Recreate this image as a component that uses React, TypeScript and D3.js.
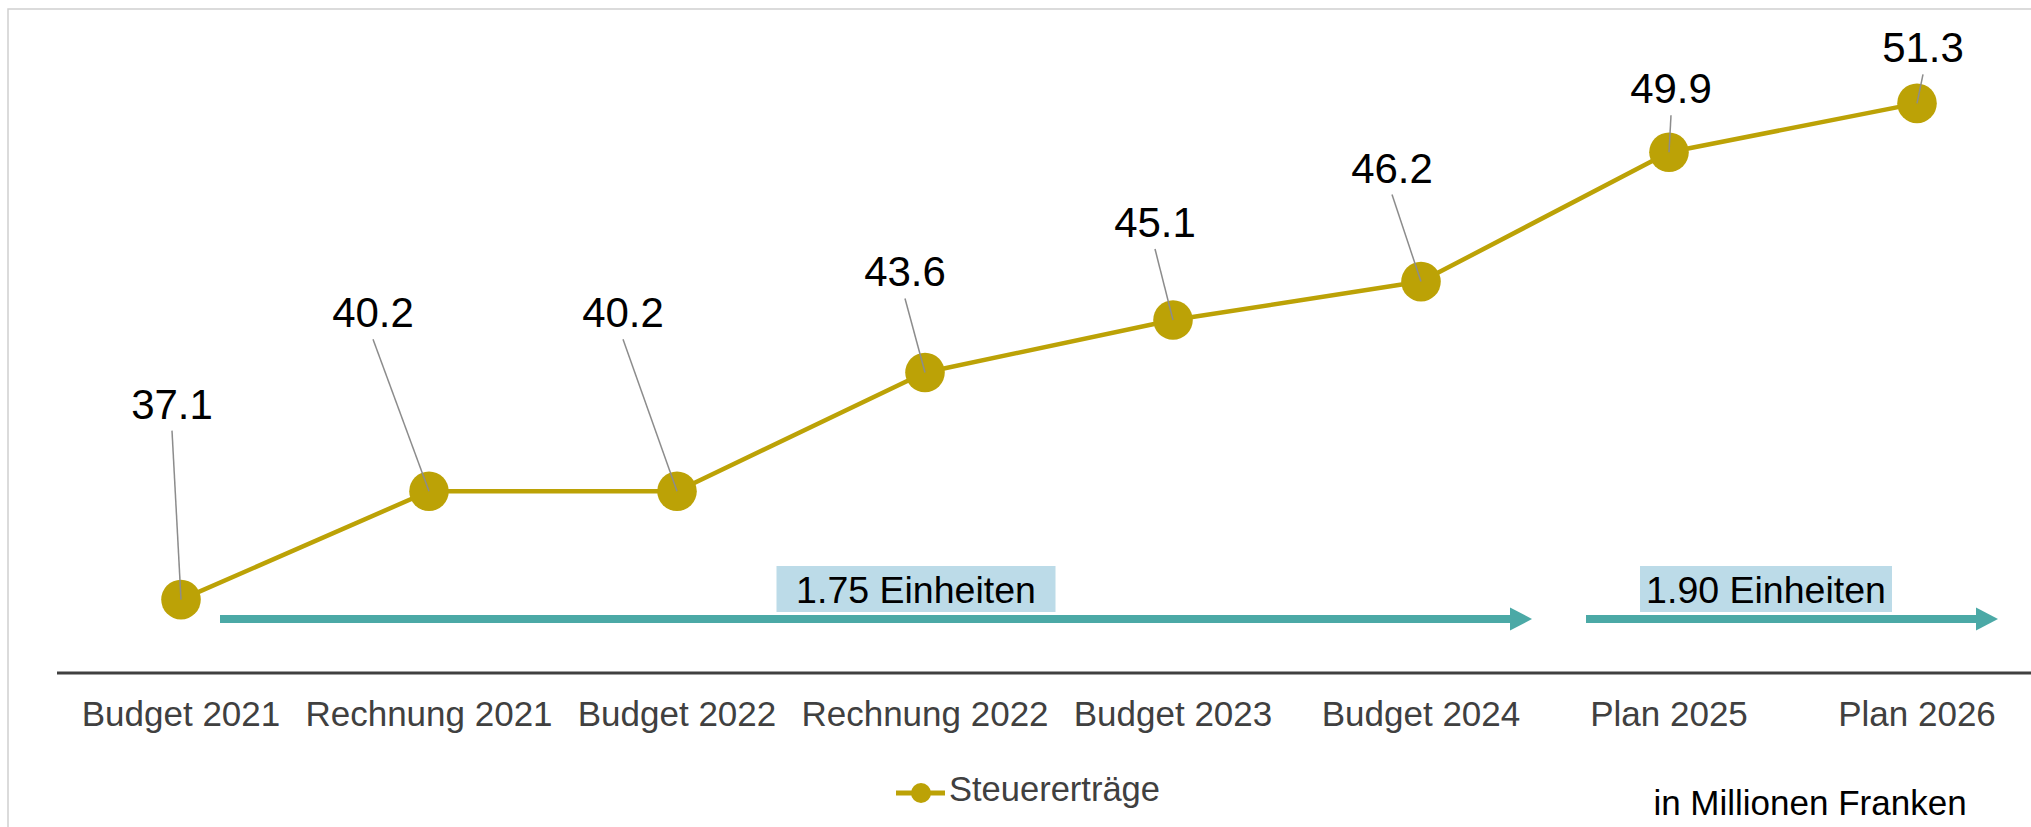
import React from "react";
import * as d3 from "d3";

const categories = [
  "Budget 2021",
  "Rechnung 2021",
  "Budget 2022",
  "Rechnung 2022",
  "Budget 2023",
  "Budget 2024",
  "Plan 2025",
  "Plan 2026",
];
const values = [37.1, 40.2, 40.2, 43.6, 45.1, 46.2, 49.9, 51.3];
const seriesName = "Steuererträge";
const unitNote = "in Millionen Franken";
const rateLabels = ["1.75 Einheiten", "1.90 Einheiten"];
const rateFrom = [0, 6];
const rateTo = [5, 7];

// layout (label placement as in the reference)
const labelDx = [-9, -56, -54, -20, -18, -29, 2, 6];
const labelDy = [-181, -164, -164, -86, -83, -99, -49, -41];

const W = 2031;
const H = 827;
const FONT = "'Liberation Sans', Arial, sans-serif";
const GOLD = "#BCA206";
const TEAL = "#4BA9A6";

export default function App() {
  const x = d3.scaleBand<string>().domain(categories).range([57, 2041]).padding(0);
  const y = d3.scaleLinear().domain([35, 54]).range([673, 9]);
  const cx = (i: number) => (x(categories[i]) as number) + x.bandwidth() / 2;
  const bw = x.bandwidth();

  const line = d3
    .line<number>()
    .x((_, i) => cx(i))
    .y((d) => y(d));

  const arrows = [
    { x1: (x(categories[rateFrom[0]]) as number) + 163, x2: (x(categories[rateTo[0]]) as number) + bw - 13, boxC: 916, boxW: 279 },
    { x1: (x(categories[rateFrom[1]]) as number) + 41, x2: (x(categories[rateTo[1]]) as number) + bw - 43, boxC: 1766, boxW: 252 },
  ];
  const arrowY = 619;

  return (
    <svg
      width={W}
      height={H}
      style={{ position: "absolute", left: 0, top: 0, background: "#fff" }}
      fontFamily={FONT}
    >
      <rect x={0} y={0} width={W} height={H} fill="#fff" />
      <rect x={8} y={9} width={W + 20} height={H + 20} fill="none" stroke="#CFCFCF" strokeWidth={1.5} />

      <line x1={57} x2={W} y1={y(35)} y2={y(35)} stroke="#404040" strokeWidth={3} />
      {categories.map((c, i) => (
        <text key={c} x={cx(i)} y={726} textAnchor="middle" fontSize={35} fill="#404040">
          {c}
        </text>
      ))}

      {arrows.map((a, k) => (
        <g key={k}>
          <rect x={a.boxC - a.boxW / 2} y={566} width={a.boxW} height={46} fill="#BCDBE8" />
          <text x={a.boxC} y={603} textAnchor="middle" fontSize={37.5} fill="#000">
            {rateLabels[k]}
          </text>
          <line x1={a.x1} x2={a.x2 - 20} y1={arrowY} y2={arrowY} stroke={TEAL} strokeWidth={8} />
          <path
            d={`M${a.x2 - 22},${arrowY - 11.5} L${a.x2},${arrowY} L${a.x2 - 22},${arrowY + 11.5} Z`}
            fill={TEAL}
          />
        </g>
      ))}

      <path d={line(values) || ""} fill="none" stroke={GOLD} strokeWidth={4.5} strokeLinejoin="round" />
      {values.map((v, i) => (
        <circle key={i} cx={cx(i)} cy={y(v)} r={19.8} fill={GOLD} />
      ))}

      {values.map((v, i) => {
        const px = cx(i);
        const py = y(v);
        const lx = px + labelDx[i];
        const ly = py + labelDy[i];
        return (
          <g key={i}>
            <line x1={lx} y1={ly + 12} x2={px} y2={py} stroke="#8C8C8C" strokeWidth={1.5} />
            <text x={lx} y={ly} textAnchor="middle" fontSize={42} fill="#000">
              {d3.format(".1f")(v)}
            </text>
          </g>
        );
      })}

      <line x1={896} x2={945} y1={793} y2={793} stroke={GOLD} strokeWidth={5} />
      <circle cx={921} cy={793} r={10} fill={GOLD} />
      <text x={949} y={801} fontSize={34.5} fill="#404040">
        {seriesName}
      </text>

      <text x={1810} y={815} textAnchor="middle" fontSize={35} fill="#000">
        {unitNote}
      </text>
    </svg>
  );
}
